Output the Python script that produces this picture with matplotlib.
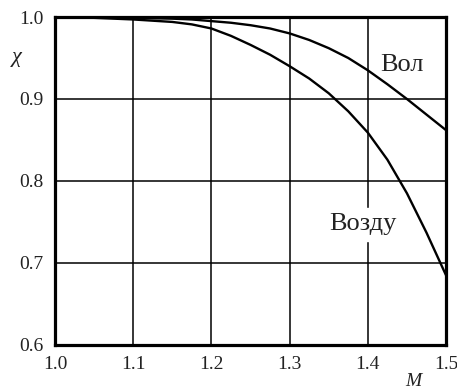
import matplotlib
matplotlib.use("Agg")
import matplotlib.pyplot as plt

# -----------------------------
# Data
# -----------------------------

mach = [1.0, 1.05, 1.1, 1.15, 1.175, 1.2, 1.225, 1.25, 1.275, 1.3, 1.325,
        1.35, 1.375, 1.4, 1.425, 1.45, 1.475, 1.5]

chi_water = [1.0, 1.0, 0.999, 0.998, 0.997, 0.995, 0.993, 0.990, 0.986,
             0.980, 0.972, 0.962, 0.950, 0.935, 0.918, 0.900, 0.881, 0.862]
chi_air = [1.0, 0.999, 0.997, 0.994, 0.991, 0.986, 0.977, 0.966, 0.954,
           0.940, 0.925, 0.907, 0.885, 0.859, 0.826, 0.785, 0.737, 0.685]

x_ticks = [1.0, 1.1, 1.2, 1.3, 1.4, 1.5]
y_ticks = [0.6, 0.7, 0.8, 0.9, 1.0]

# -----------------------------
# Plot
# -----------------------------

plt.rcParams["font.family"] = ["Liberation Serif", "DejaVu Serif"]

fig = plt.figure(figsize=(4.57, 3.92), dpi=100)
ax = fig.add_axes([0.1204, 0.120, 0.8556, 0.8366])

ax.plot(mach, chi_water, color="black", linewidth=1.7)
ax.plot(mach, chi_air, color="black", linewidth=1.7)

ax.set_xlim(1.0, 1.5)
ax.set_ylim(0.6, 1.0)
ax.set_xticks(x_ticks)
ax.set_yticks(y_ticks)
ax.set_xticklabels([f"{v:.1f}" for v in x_ticks])
ax.set_yticklabels([f"{v:.1f}" for v in y_ticks])

ax.grid(True, color="black", linewidth=1.1)
ax.tick_params(length=0, labelsize=14, colors="#222222", pad=8)

for spine in ax.spines.values():
    spine.set_linewidth(2.3)
    spine.set_color("black")

ax.text(1.416, 0.941, "Вол", fontsize=19, va="center", ha="left",
        color="#222222")
ax.text(1.35, 0.747, "Возду", fontsize=19, va="center", ha="left",
        color="#222222", backgroundcolor="white")

ax.text(-0.097, 0.878, "χ", transform=ax.transAxes, fontsize=16,
        style="italic", ha="center", va="center", color="#222222")
ax.text(0.916, -0.112, "M", transform=ax.transAxes, fontsize=14,
        style="italic", ha="center", va="center", color="#222222")

plt.savefig("out.png", dpi=100)
plt.close()
